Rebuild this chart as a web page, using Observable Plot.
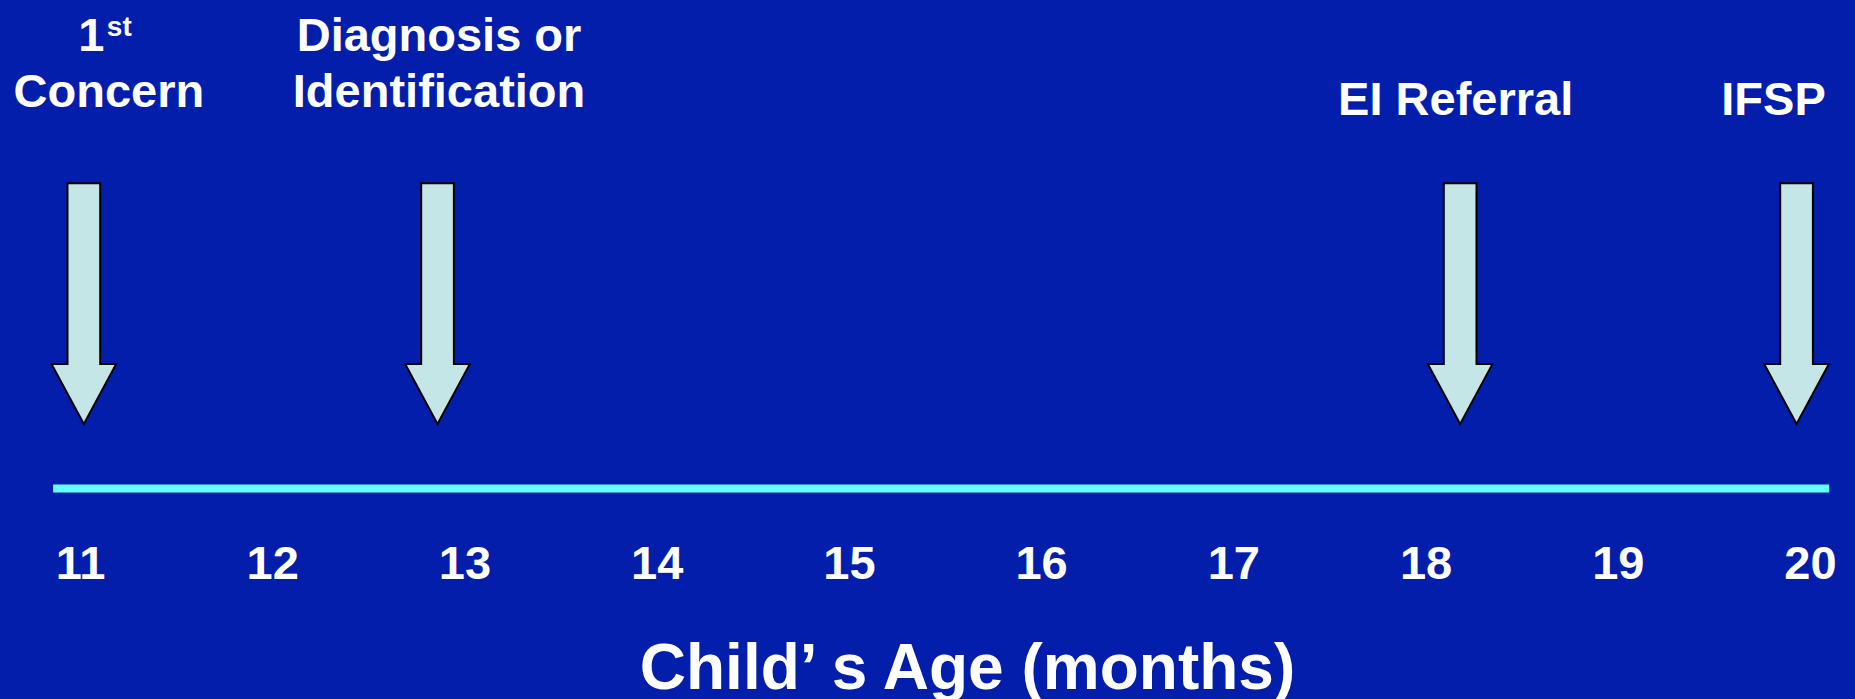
<!DOCTYPE html>
<html>
<head>
<meta charset="utf-8">
<script src="https://cdn.jsdelivr.net/npm/d3@7"></script>
<script src="https://cdn.jsdelivr.net/npm/@observablehq/plot@0.6"></script>
<style>
  html, body { margin: 0; padding: 0; background: #021EAA; overflow: hidden; }
  #chart svg { display: block; }
</style>
</head>
<body>
<div id="chart"></div>
<script>
// ---- data ----
const eventMonths = [11.02, 12.86, 18.18, 19.93];
const eventLabels = ["1st\nConcern", "Diagnosis or\nIdentification", "EI Referral", "IFSP"];
const tickMonths = [11, 12, 13, 14, 15, 16, 17, 18, 19, 20];
const tickLabels = ["11", "12", "13", "14", "15", "16", "17", "18", "19", "20"];
const timelineStart = 10.86;
const timelineEnd = 20.10;
const axisTitle = "Child\u2019 s Age (months)";

// ---- layout & style ----
const L = {
  width: 1855, height: 699,
  xRange: [80, 1810],
  lineY: 488, lineW: 8,
  arrowTop: 183.3, arrowNeck: 364, arrowTip: 424, shaftHalf: 16.35, headHalf: 32.35,
  tickBaseline: 578, tickSize: 47,
  titleBaseline: 688, titleSize: 64, titleDx: 39.5,
  labelSize: 47, labelLead: 56, supSize: 28, supBaseline: 35,
  labelDx: [24.5, 1, -5, -23.5],
  labelBaseline: [106, 106, 114, 114]
};
const C = { bg: "#021EAA", line: "#66FFFF", arrow: "#C4E6E6", text: "#FFFFFF" };
const FONT = "'Liberation Sans', Arial, Helvetica, sans-serif";
const textBase = { fill: C.text, fontFamily: FONT, fontWeight: "bold", lineAnchor: "bottom", frameAnchor: "top" };

// ---- marks ----
const marks = [];

// timeline
marks.push(Plot.ruleY([L.lineY], { x1: timelineStart, x2: timelineEnd, stroke: C.line, strokeWidth: L.lineW }));

// arrows (positioned with the x scale)
marks.push((index, scales) => {
  const g = d3.create("svg:g");
  eventMonths.forEach(m => {
    const cx = scales.x(m);
    const pts = [
      [cx - L.shaftHalf, L.arrowTop], [cx + L.shaftHalf, L.arrowTop],
      [cx + L.shaftHalf, L.arrowNeck], [cx + L.headHalf, L.arrowNeck],
      [cx, L.arrowTip],
      [cx - L.headHalf, L.arrowNeck], [cx - L.shaftHalf, L.arrowNeck]
    ];
    g.append("polygon")
      .attr("points", pts.map(p => p.join(",")).join(" "))
      .attr("fill", C.arrow)
      .attr("stroke", "#000")
      .attr("stroke-width", 2)
      .attr("stroke-linejoin", "miter");
  });
  return g.node();
});

// tick labels
marks.push(Plot.text(tickMonths, {
  ...textBase, x: d => d, text: (d, i) => tickLabels[i],
  dy: L.tickBaseline, fontSize: L.tickSize
}));

// event labels
eventMonths.forEach((m, i) => {
  const lines = eventLabels[i].split("\n");
  const n = lines.length;
  lines.forEach((line, j) => {
    const baseline = L.labelBaseline[i] - (n - 1 - j) * L.labelLead;
    const ord = line.match(/^(\d+)(st|nd|rd|th)$/);
    if (ord) {
      marks.push(Plot.text([m], {
        ...textBase, x: d => d, text: () => ord[1], textAnchor: "start",
        dx: L.labelDx[i] - 30.5, dy: baseline, fontSize: L.labelSize
      }));
      marks.push(Plot.text([m], {
        ...textBase, x: d => d, text: () => ord[2], textAnchor: "start",
        dx: L.labelDx[i] - 2, dy: L.supBaseline, fontSize: L.supSize
      }));
    } else {
      marks.push(Plot.text([m], {
        ...textBase, x: d => d, text: () => line,
        dx: L.labelDx[i], dy: baseline, fontSize: L.labelSize
      }));
    }
  });
});

// axis title
marks.push(Plot.text([axisTitle], {
  ...textBase, frameAnchor: "bottom", text: d => d,
  dx: L.titleDx, dy: L.titleBaseline - L.height, fontSize: L.titleSize
}));

const chart = Plot.plot({
  width: L.width,
  height: L.height,
  margin: 0,
  x: { domain: [11, 20], range: L.xRange, axis: null },
  y: { type: "identity", axis: null },
  style: { background: C.bg, fontFamily: FONT, color: C.text, overflow: "visible" },
  marks
});
document.getElementById("chart").appendChild(chart);
</script>
</body>
</html>
